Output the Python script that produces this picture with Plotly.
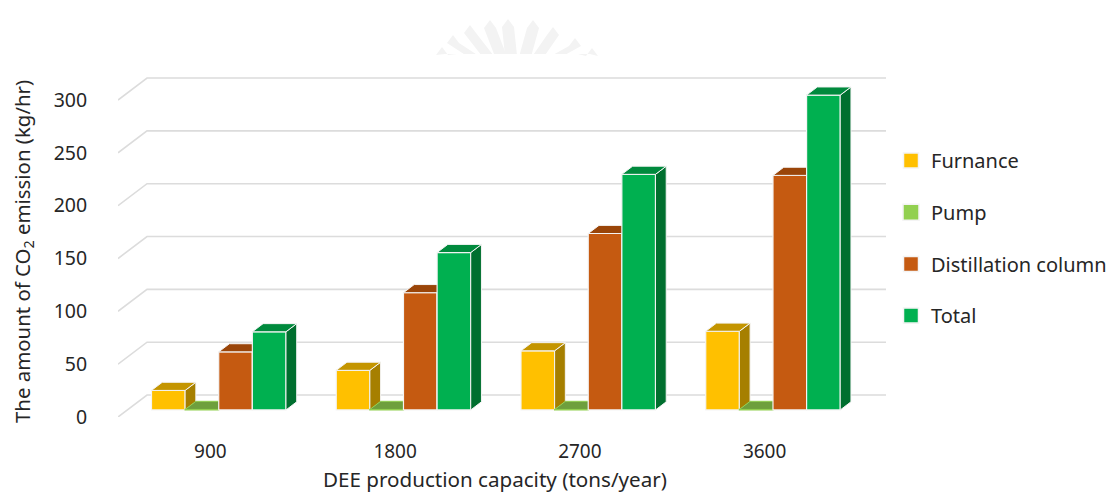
import plotly.graph_objects as go

# Chart data
capacities = ["900", "1800", "2700", "3600"]
series_names = ["Furnance", "Pump", "Distillation column", "Total"]
furnace = [18.5, 37.5, 56, 74.5]
pump = [0.5, 0.5, 0.5, 0.5]
distillation = [55, 111, 167, 222]
total = [74, 149, 223, 298]
all_values = [furnace, pump, distillation, total]

# Face colours per series
front_colors = ["#FFC000", "#92D050", "#C55A11", "#00B050"]
top_colors = ["#C49500", "#6E9F3D", "#9A4509", "#008A3D"]
side_colors = ["#A67F00", "#5E8A33", "#7F3A0B", "#006F2F"]
EDGE = "#F4F4F4"
edge_colors = [EDGE, "#92D050", EDGE, EDGE]

# Oblique projection, all in axis units
WALL_DX, WALL_DY = 0.157, 20.8     # full floor depth
BAR_NEAR, BAR_FAR = 0.32, 0.69     # where the bars sit inside that depth
BAR_WIDTH = 0.182
BAR_SHIFT = -0.005
X_RANGE = [-0.5, 3.657]
Y_RANGE = [0, 328.4]
GRID = "#DCDCDC"
TEXT = "#262626"
FONT = "Noto Sans"

# Plot area in pixels
LEFT, RIGHT, TOP, BOTTOM = 118, 886, 70, 417


def paper_x(px):
    return (px - LEFT) / (RIGHT - LEFT)


def paper_y(py):
    return (BOTTOM - py) / (BOTTOM - TOP)


# Faint seal at the top of the page: fan of rays, cut off along a straight edge
SEAL_CENTER = (515, 105)
SEAL_CUT = 54
SEAL_TIPS = [(442, 47), (453, 35), (470, 25), (490, 20), (508, 19), (533, 20), (553, 27), (575, 38), (592, 48)]
seal_shapes = []
for tx, ty in SEAL_TIPS:
    t = (SEAL_CUT - ty) / (SEAL_CENTER[1] - ty)
    bx = tx + (SEAL_CENTER[0] - tx) * t
    half = 6
    path = (f"M {paper_x(tx)} {paper_y(ty)} L {paper_x(tx + half)} {paper_y(ty + 8)} "
            f"L {paper_x(bx + half)} {paper_y(SEAL_CUT)} L {paper_x(bx - half)} {paper_y(SEAL_CUT)} "
            f"L {paper_x(tx - half)} {paper_y(ty + 8)} Z")
    seal_shapes.append(dict(type="path", xref="paper", yref="paper", path=path,
                            fillcolor="#F3F3F3", line=dict(width=0), layer="below"))

fig = go.Figure()

# Back wall gridlines and the slanted lines leading to them
grid_x, grid_y = [], []
for v in range(0, 301, 50):
    grid_x += [X_RANGE[0], X_RANGE[0] + WALL_DX, X_RANGE[1], None]
    grid_y += [v, v + WALL_DY, v + WALL_DY, None]
fig.add_trace(go.Scatter(x=grid_x, y=grid_y, mode="lines", line=dict(color=GRID, width=1.6),
                         showlegend=False, hoverinfo="skip", zorder=0))

for s, (name, values) in enumerate(zip(series_names, all_values)):
    near_x = [i + (s - 1.5) * BAR_WIDTH + BAR_NEAR * WALL_DX + BAR_SHIFT for i in range(len(capacities))]
    base = BAR_NEAR * WALL_DY
    # Front faces
    fig.add_trace(go.Bar(x=near_x, y=values, base=base, width=BAR_WIDTH,
                         marker=dict(color=front_colors[s], line=dict(color=edge_colors[s], width=1.2)),
                         showlegend=False, name=name, zorder=2 * s + 2))
    # Top and side faces of the same bars
    top_x, top_y, side_x, side_y = [], [], [], []
    depth_x = (BAR_FAR - BAR_NEAR) * WALL_DX
    depth_y = (BAR_FAR - BAR_NEAR) * WALL_DY
    for x0, v in zip(near_x, values):
        left, right = x0 - BAR_WIDTH / 2, x0 + BAR_WIDTH / 2
        y_top = base + v
        top_x += [left, right, right + depth_x, left + depth_x, left, None]
        top_y += [y_top, y_top, y_top + depth_y, y_top + depth_y, y_top, None]
        side_x += [right, right + depth_x, right + depth_x, right, right, None]
        side_y += [y_top, y_top + depth_y, base + depth_y, base, y_top, None]
    for fx, fy, color in ((side_x, side_y, side_colors[s]), (top_x, top_y, top_colors[s])):
        fig.add_trace(go.Scatter(x=fx, y=fy, mode="lines", fill="toself", fillcolor=color,
                                 line=dict(color=edge_colors[s], width=1), showlegend=False,
                                 hoverinfo="skip", zorder=2 * s + 3))

# Legend entries
for s, name in enumerate(series_names):
    fig.add_trace(go.Scatter(x=[None], y=[None], mode="markers", name=name, legendgroup=name,
                             marker=dict(symbol="square", size=17 if s == 1 else 15, color=front_colors[s],
                                         line=dict(color=EDGE, width=1.5))))

# Axis titles sit off-centre from the plot area, so they are placed as annotations
axis_titles = [
    dict(text="DEE production capacity (tons/year)", x=paper_x(494.5), y=paper_y(478.5),
         font=dict(size=20.6), xref="paper", yref="paper", showarrow=False,
         xanchor="center", yanchor="middle", borderpad=0, borderwidth=0),
    dict(text="The amount of CO<sub>2</sub> emission (kg/hr)", x=paper_x(23), y=paper_y(252),
         font=dict(size=20.4), textangle=-90, xref="paper", yref="paper", showarrow=False,
         xanchor="center", yanchor="middle"),
]

fig.update_layout(
    width=1110, height=492,
    margin=dict(l=LEFT, r=1110 - RIGHT, t=TOP, b=492 - BOTTOM, autoexpand=False),
    paper_bgcolor="white", plot_bgcolor="white",
    barmode="overlay",
    font=dict(family=FONT, size=19.5, color=TEXT),
    shapes=seal_shapes,
    annotations=axis_titles,
    xaxis=dict(range=X_RANGE, tickvals=list(range(len(capacities))), ticktext=capacities,
               showgrid=False, zeroline=False, showline=False, tickfont=dict(size=19),
               ticks="outside", ticklen=17, tickcolor="rgba(0,0,0,0)"),
    yaxis=dict(range=Y_RANGE, tickvals=list(range(0, 301, 50)),
               showgrid=False, zeroline=False, showline=False,
               ticks="outside", ticklen=26, tickcolor="rgba(0,0,0,0)"),
    legend=dict(x=paper_x(891), y=paper_y(141), xanchor="left", yanchor="top",
                tracegroupgap=22.7, itemsizing="trace", font=dict(size=20), bgcolor="rgba(0,0,0,0)"),
)

fig.write_html("out.html")
